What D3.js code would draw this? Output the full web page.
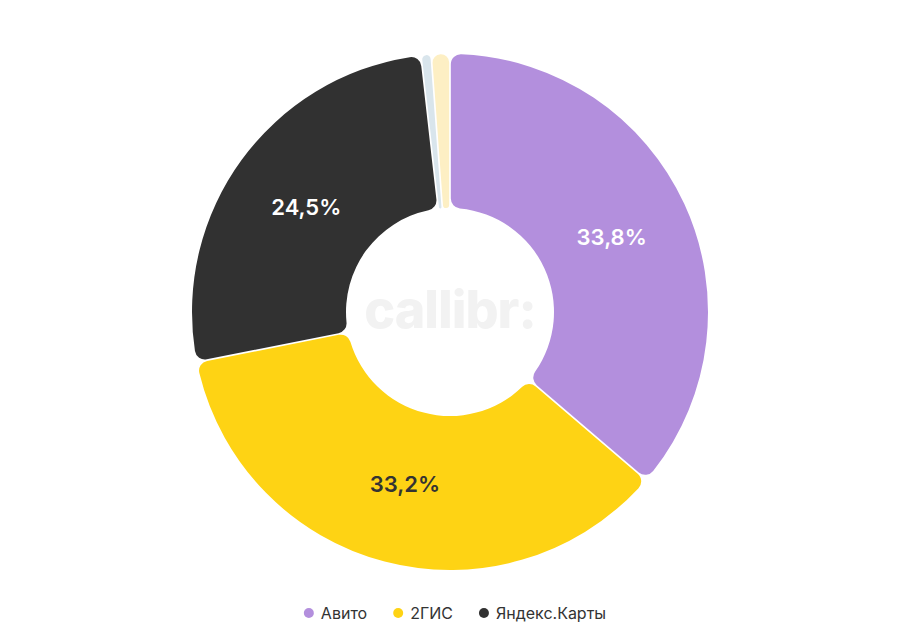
<!DOCTYPE html>
<meta charset="utf-8">
<style>
body { margin: 0; background: #fff; }
text { font-family: Inter, "Noto Sans", sans-serif; }
.label { font-size: 22px; font-weight: 600; text-anchor: middle; }
.legend text { font-size: 16px; fill: #333; }
</style>
<svg width="900" height="639"></svg>
<script src="https://d3js.org/d3.v7.min.js"></script>
<script>

var names = ["Авито", "2ГИС", "Яндекс.Карты", "Другое 1", "Другое 2"];
var values = [33.8, 33.2, 24.5, 0.5, 1.0];
var labels = ["33,8%", "33,2%", "24,5%", "", ""];
var colors = ["#b38fdd", "#fed314", "#313131", "#d9e5ec", "#fdefc4"];
var labelColors = ["#fff", "#333", "#fff", "#333", "#333"];
var legendItems = [0, 1, 2];

var svg = d3.select("svg"),
    width = +svg.attr("width"),
    cx = 450, cy = 312,
    outer = 258, inner = 104;

var data = names.map(function(n, i) {
  return { name: n, value: values[i], label: labels[i], color: colors[i], lc: labelColors[i] };
});

var pie = d3.pie()
    .sort(null)
    .value(function(d) { return d.value; })
    .padAngle(0.006);

var arc = d3.arc()
    .innerRadius(inner)
    .outerRadius(outer)
    .cornerRadius(10);

var labelArc = d3.arc()
    .innerRadius(178)
    .outerRadius(178);

var g = svg.append("g").attr("transform", "translate(" + cx + "," + cy + ")");

// watermark
g.append("text")
    .attr("text-anchor", "middle")
    .attr("y", 16)
    .attr("fill", "#f2f2f2")
    .style("font-size", "52px")
    .style("font-weight", 800)
    .style("letter-spacing", "-1px")
    .text("callibr:");

var arcs = pie(data);

g.selectAll("path")
    .data(arcs)
    .enter().append("path")
    .attr("d", arc)
    .attr("fill", function(d) { return d.data.color; });

g.selectAll(".label")
    .data(arcs.filter(function(d) { return d.data.label; }))
    .enter().append("text")
    .attr("class", "label")
    .attr("transform", function(d) { return "translate(" + labelArc.centroid(d) + ")"; })
    .attr("dy", "0.36em")
    .attr("fill", function(d) { return d.data.lc; })
    .text(function(d) { return d.data.label; });

// legend
var legend = svg.append("g").attr("class", "legend");
var items = legend.selectAll("g")
    .data(legendItems.map(function(i) { return data[i]; }))
    .enter().append("g");

items.append("circle")
    .attr("r", 5)
    .attr("cy", 0)
    .attr("fill", function(d) { return d.color; });

items.append("text")
    .attr("x", 12)
    .attr("dy", "0.35em")
    .text(function(d) { return d.name; });

var x = 0, gap = 26, widths = [];
items.each(function() { widths.push(this.getBBox().width); });
var total = d3.sum(widths) + gap * (widths.length - 1);
var startX = (width - total) / 2 + 10;
items.attr("transform", function(d, i) {
  var t = "translate(" + (startX + x) + ",613)";
  x += widths[i] + gap;
  return t;
});

</script>
